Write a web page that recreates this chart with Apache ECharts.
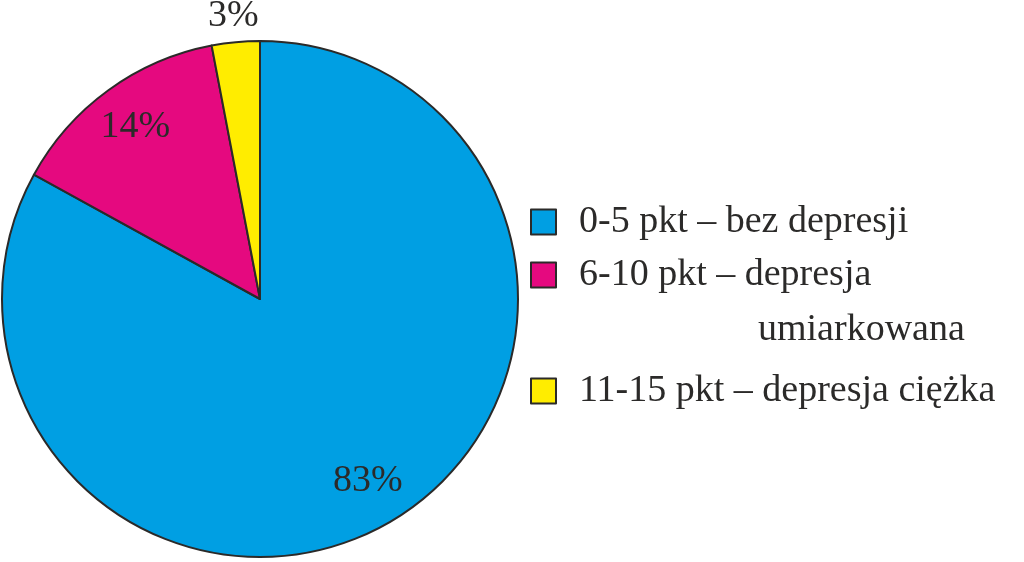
<!DOCTYPE html>
<html>
<head>
<meta charset="utf-8">
<script src="https://cdn.jsdelivr.net/npm/echarts@6/dist/echarts.min.js"></script>
<style>
html,body{margin:0;padding:0;background:#fff;}
#main{width:1024px;height:562px;}
</style>
</head>
<body>
<div id="main"></div>
<script>
const categories = ['0-5 pkt – bez depresji', '6-10 pkt – depresja umiarkowana', '11-15 pkt – depresja ciężka'];
const values = [83, 14, 3];
const colors = ['#009FE3', '#E5097F', '#FFED00'];

const FONT = 'Liberation Serif';
const TXT = '#2b2a29';
const FS = 38;
const R = 258;
const C = [260, 299];

const data = categories.map((n, i) => ({ name: n, value: values[i], itemStyle: { color: colors[i] } }));

const chart = echarts.init(document.getElementById('main'));
const legendBase = {
  orient: 'vertical', left: 530, padding: 0, itemWidth: 25, itemHeight: 25,
  icon: 'rect', itemGap: -57,
  selectedMode: false,
  itemStyle: { borderColor: TXT, borderWidth: 2 },
  textStyle: {
    fontFamily: FONT, fontSize: FS, color: TXT, lineHeight: 55, padding: [0, 0, 0, 18],
    rich: {
      s: { fontFamily: FONT, fontSize: FS, color: TXT, lineHeight: 55 },
      m: { fontFamily: FONT, fontSize: FS, color: TXT, lineHeight: 55 },
      u: { fontFamily: FONT, fontSize: FS, color: TXT, lineHeight: 55, padding: [0, 0, 0, 179] }
    }
  },
  formatter: function (name) {
    if (name === categories[1]) {
      const parts = name.split(' ');
      const last = parts.pop();
      return '{s| }\n{m|' + parts.join(' ') + '}\n{u|' + last + '}';
    }
    return name;
  }
};
chart.setOption({
  backgroundColor: '#fff',
  animation: false,
  legend: [
    Object.assign({}, legendBase, { top: 192.5, data: [categories[0], categories[1]] }),
    Object.assign({}, legendBase, { top: 363.5, data: [categories[2]] })
  ],
  series: [
    {
      type: 'pie', center: C, radius: [0, R], startAngle: 90, clockwise: true,
      silent: true, emphasis: { disabled: true },
      itemStyle: { borderColor: TXT, borderWidth: 2 },
      label: { show: false }, labelLine: { show: false },
      data: data
    },
    {
      type: 'pie', center: C, radius: [R * 0.62, R], startAngle: 90, clockwise: true,
      silent: true, emphasis: { disabled: true }, legendHoverLink: false,
      itemStyle: { color: 'transparent', borderWidth: 0 },
      label: { show: true, position: 'inside', formatter: '{c}%', fontFamily: FONT, fontSize: FS, color: TXT },
      labelLine: { show: false },
      data: categories.map((n, i) => ({ name: n, value: values[i], itemStyle: { color: 'transparent' }, label: { show: i < 2 } }))
    },
    {
      type: 'pie', center: C, radius: [R, R + 46], startAngle: 90, clockwise: true,
      silent: true, emphasis: { disabled: true }, legendHoverLink: false,
      itemStyle: { color: 'transparent', borderWidth: 0 },
      label: { show: true, position: 'inside', formatter: '{c}%', fontFamily: FONT, fontSize: FS, color: TXT },
      labelLine: { show: false },
      data: categories.map((n, i) => ({ name: n, value: values[i], itemStyle: { color: 'transparent' }, label: { show: i === 2 } }))
    }
  ]
});
</script>
</body>
</html>
